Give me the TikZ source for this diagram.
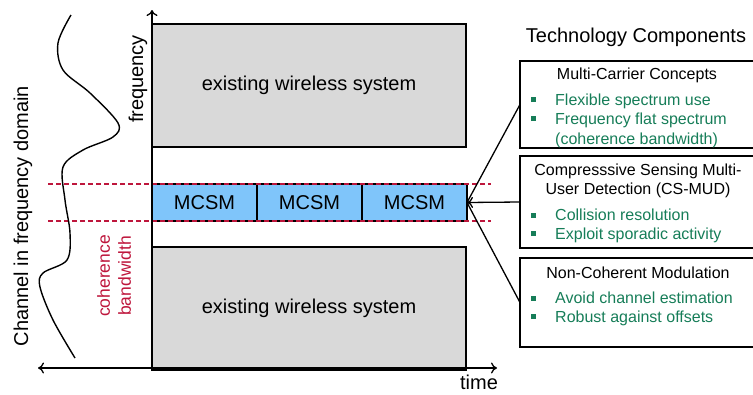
\documentclass[tikz,border=0pt]{standalone}
\usepackage{fontspec}
\setmainfont{Liberation Sans}
\usepackage{xcolor}
\usetikzlibrary{arrows,arrows.meta,positioning,calc}
\definecolor{sysgray}{RGB}{217,217,217}
\definecolor{mcsmblue}{RGB}{127,197,250}
\definecolor{cohred}{RGB}{190,22,60}
\definecolor{itemgreen}{RGB}{22,125,88}
\def\channel{plot[smooth,tension=0.55] coordinates {(71,15) (58,43) (63,70) (90,93) (118,123) (113,137) (83,150) (63,167) (65,200) (70,233) (67,260) (43,273) (40,287) (53,320) (75,358)}}
\newcommand\bul{\makebox[24pt][l]{\raisebox{3pt}{\rule{5pt}{5pt}}}}

\begin{document}
\begin{tikzpicture}[x=1pt,y=-1pt,>={To[length=6pt,width=11pt]},
    big/.style={font=\fontsize{20}{24}\selectfont},
    sysbox/.style={big,draw,line width=1.8pt,fill=sysgray,minimum width=314pt,minimum height=123pt,anchor=north west,outer sep=0pt},
    mcsm/.style={big,draw,line width=1.4pt,fill=mcsmblue,minimum width=105pt,minimum height=37pt,inner sep=0pt,outer sep=0pt},
    techbox/.style={draw,line width=1.8pt,minimum width=270pt,anchor=north west,outer sep=0pt},
    head/.style={font=\fontsize{16}{19}\selectfont,align=center},
    items/.style={font=\fontsize{16}{20}\selectfont,text=itemgreen,align=left,anchor=west,inner sep=0pt},
    cohline/.style={cohred,line width=1.6pt,dash pattern=on 5pt off 3pt},
    axis/.style={line width=1.3pt,->},
    link/.style={line width=1.3pt}]
    \useasboundingbox (0,0) rectangle (753,394);

    % spectrum: two legacy systems and the MCSM band
    \node[sysbox] (sys1) at (152,24) {existing wireless system};
    \node[sysbox] (sys2) at (152,247) {existing wireless system};
    \node[mcsm] (m1) at (204.5,202.5) {MCSM};
    \node[mcsm,right=0pt of m1] (m2) {MCSM};
    \node[mcsm,right=0pt of m2] (m3) {MCSM};
    \draw[cohline] ($(m1.north west)+(-104,0)$) -- ($(m3.north east)+(24,0)$);
    \draw[cohline] ($(m1.south west)+(-104,0)$) -- ($(m3.south east)+(24,0)$);

    % axes
    \coordinate (o) at (152,368);
    \coordinate (fend) at (152,10);
    \coordinate (tstart) at (38,368);
    \coordinate (tend) at (497,368);
    \draw[axis] (o) -- (fend);
    \draw[axis,<->] (tstart) -- (tend);
    \node[big,rotate=90] (flab) at (138,79) {frequency};
    \node[big] (tlab) at (479,382) {time};

    % channel
    \draw[line width=1.4pt] \channel;
    \node[big,rotate=90] (chlab) at (23,216) {Channel in frequency domain};
    \node[rotate=90,text=cohred,align=center,font=\fontsize{17.5}{21}\selectfont] (cohlab) at (114,276) {coherence\\bandwidth};

    % technology components
    \node[big] (title) at (636,37) {Technology Components};
    \node[techbox,minimum height=87pt] (b1) at (520,61) {};
    \node[techbox,minimum height=92pt] (b2) at (520,156) {};
    \node[techbox,minimum height=89pt] (b3) at (520,258) {};
    \node[head] (b1h) at (637,75) {Multi-Carrier Concepts};
    \node[items] (b1a) at (531,101) {\bul Flexible spectrum use};
    \node[items] (b1b) at (531,130) {\bul Frequency flat spectrum\\\hspace*{24pt}(coherence bandwidth)};
    \node[head] (b2h) at (638,181) {Compresssive Sensing Multi-\\User Detection (CS-MUD)};
    \node[items] (b2a) at (531,215) {\bul Collision resolution};
    \node[items] (b2b) at (531,235) {\bul Exploit sporadic activity};
    \node[head] (b3h) at (638,273) {Non-Coherent Modulation};
    \node[items] (b3a) at (531,298) {\bul Avoid channel estimation};
    \node[items] (b3b) at (531,318) {\bul Robust against offsets};

    \draw[link] (b1.west) -- (m3.east);
    \draw[link,->] (b2.west) -- (m3.east);
    \draw[link] (b3.west) -- (m3.east);
\end{tikzpicture}
\end{document}
